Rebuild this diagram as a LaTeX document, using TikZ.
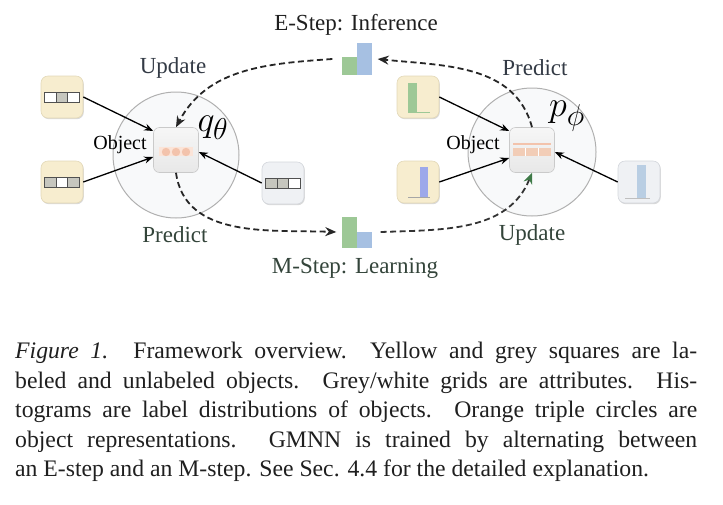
\documentclass[tikz,border=0pt]{standalone}
\usepackage{graphicx}
\usepackage{fontspec}
\setmainfont{Liberation Serif}
\usetikzlibrary{arrows.meta,shadows}
\definecolor{yelfill}{HTML}{F7EDCF}
\definecolor{yeledge}{HTML}{E3D8B8}
\definecolor{greyfill}{HTML}{EFF1F4}
\definecolor{greyedge}{HTML}{D3D6DB}
\definecolor{objtop}{HTML}{F6F6F6}
\definecolor{objbot}{HTML}{E8E8E8}
\definecolor{objedge}{HTML}{CACACA}
\definecolor{circfill}{HTML}{F8F9FA}
\definecolor{circedge}{HTML}{B0B0B0}
\definecolor{cellgrey}{HTML}{C6C6BE}
\definecolor{griddark}{HTML}{505050}
\definecolor{bargreen}{HTML}{9DC896}
\definecolor{barblue}{HTML}{A6C0E2}
\definecolor{barpurple}{HTML}{9DA8EA}
\definecolor{barlight}{HTML}{B9CEE3}
\definecolor{toplab}{HTML}{333A45}
\definecolor{botlab}{HTML}{33443A}
\definecolor{tipgreen}{HTML}{3F7A48}
\definecolor{repband}{HTML}{FBE4D8}
\definecolor{repdot}{HTML}{F3C3AC}
\definecolor{pband}{HTML}{F2CDB7}
\newcommand\attrgrid[4]{%
  \begin{scope}[shift={(#1)}]
    \filldraw[draw=griddark,fill=#2,line width=0.7pt] (-17.5,-5) rectangle (-5.83,5);
    \filldraw[draw=griddark,fill=#3,line width=0.7pt] (-5.83,-5) rectangle (5.83,5);
    \filldraw[draw=griddark,fill=#4,line width=0.7pt] (5.83,-5) rectangle (17.5,5);
  \end{scope}}
\begin{document}
\begin{tikzpicture}[x=1pt,y=-1pt,
  yelbox/.style={draw=yeledge,fill=yelfill,rounded corners=7pt,line width=0.6pt,minimum size=42pt,inner sep=0pt,
    drop shadow={shadow xshift=0.8pt,shadow yshift=-1.2pt,fill=black,opacity=0.15}},
  greybox/.style={draw=greyedge,fill=greyfill,rounded corners=7pt,line width=0.6pt,minimum size=42pt,inner sep=0pt,
    drop shadow={shadow xshift=0.8pt,shadow yshift=-1.2pt,fill=black,opacity=0.15}},
  objbox/.style={draw=objedge,top color=objtop,bottom color=objbot,rounded corners=6pt,line width=0.6pt,minimum size=45pt,inner sep=0pt},
  bigcirc/.style={circle,draw=circedge,fill=circfill,line width=1pt,inner sep=0pt},
  histnode/.style={inner sep=0pt,minimum width=31pt,minimum height=32pt},
  toplabel/.style={text=toplab,font=\fontsize{23}{26}\selectfont,inner sep=0pt},
  botlabel/.style={text=botlab,font=\fontsize{23}{26}\selectfont,inner sep=0pt},
  objlabel/.style={text=black,font=\fontsize{20}{22}\selectfont,inner sep=0pt},
  mathlabel/.style={text=black,font=\fontsize{24.88}{26}\selectfont,inner sep=0pt},
  caplabel/.style={anchor=base west,inner sep=0pt,font=\fontsize{23.7}{30}\selectfont,text=black!88},
  dasharrow/.style={draw=black!85,dash pattern=on 6pt off 3.5pt,line width=1.8pt,-{Stealth[length=11pt,width=9pt]}},
  dasharrowg/.style={draw=black!80,dash pattern=on 6pt off 3.5pt,line width=1.8pt,-{Stealth[length=11pt,width=9pt,color=tipgreen]}},
  solidarrow/.style={draw=black,line width=1.3pt,-{Stealth[length=9pt,width=7pt]}}
]
\useasboundingbox (0,0) rectangle (723,504);

% ---------- left part (q_theta) ----------
\node[bigcirc,minimum size=126pt] (lcirc) at (176,155) {};
\node[yelbox] (lya) at (62,97) {};
\node[yelbox] (lyb) at (62,182) {};
\node[greybox] (lgr) at (283,183) {};
\attrgrid{lya.center}{white}{cellgrey}{white}
\attrgrid{lyb.center}{cellgrey}{white}{cellgrey}
\attrgrid{lgr.center}{cellgrey}{cellgrey}{white}
\node[objbox] (qbox) at (176,150) {};
\begin{scope}[shift={(qbox.center)}]
  \fill[repband] (-17,-3) rectangle (17,6);
  \foreach \dx in {-10,0,10} \fill[repdot] (\dx,2) circle (4.2);
\end{scope}
\node[objlabel] (lobj) at (120,145) {Object};
\node[mathlabel] (qlab) at (213,128) {\scalebox{1.45}{$q_\theta$}};
\node[toplabel] (lupd) at (173,68) {Update};
\node[botlabel] (lpred) at (175,235) {Predict};
\draw[solidarrow] (lya.east) -- ([yshift=19pt]qbox.west);
\draw[solidarrow] (lyb.east) -- ([yshift=-7pt]qbox.west);
\draw[solidarrow] (lgr.west) -- ([yshift=-2pt]qbox.east);

% ---------- right part (p_phi) ----------
\node[bigcirc,minimum size=128pt] (rcirc) at (532,152) {};
\node[yelbox] (rya) at (418,97) {};
\node[yelbox] (ryb) at (418,182) {};
\node[greybox] (rgr) at (639,182) {};
\begin{scope}[shift={(rya.center)}]
  \fill[bargreen] (-10,-14) rectangle (-1,16);
  \fill[bargreen] (-10,14.5) rectangle (12,16);
\end{scope}
\begin{scope}[shift={(ryb.center)}]
  \fill[barpurple] (2,-15) rectangle (10,16);
  \fill[black!35] (-10,15.3) rectangle (12,16.3);
\end{scope}
\begin{scope}[shift={(rgr.center)}]
  \fill[barlight] (-2,-17) rectangle (7,17);
  \fill[black!25] (-14,16.3) rectangle (11,17.3);
\end{scope}
\node[objbox] (pbox) at (532,150) {};
\begin{scope}[shift={(pbox.center)}]
  \fill[pband] (-19,-2) rectangle (19,6);
  \draw[white,line width=1pt] (-6.3,-2) -- (-6.3,6) (6.3,-2) -- (6.3,6);
  \draw[repdot,line width=1.2pt] (-19,-6) -- (19,-6);
\end{scope}
\node[objlabel] (robj) at (473,145) {Object};
\node[mathlabel] (plab) at (567,116) {\scalebox{1.45}{$p_\phi$}};
\node[toplabel] (rpred) at (535,68) {Predict};
\node[botlabel] (rupd) at (532,235) {Update};
\draw[solidarrow] (rya.east) -- ([yshift=19pt]pbox.west);
\draw[solidarrow] (ryb.east) -- ([yshift=-8pt]pbox.west);
\draw[solidarrow] (rgr.west) -- ([yshift=-2pt]pbox.east);

% ---------- E-step / M-step histograms ----------
\node[histnode] (ehist) at (357,59) {};
\begin{scope}[shift={(ehist.center)}]
  \fill[bargreen] (-15,-2) rectangle (0,16);
  \fill[barblue] (0,-16) rectangle (15,16);
\end{scope}
\node[histnode] (mhist) at (357,232) {};
\begin{scope}[shift={(mhist.center)}]
  \fill[bargreen] (-15,-15) rectangle (0,16);
  \fill[barblue] (0,0) rectangle (15,16);
\end{scope}
\node[text=black!88,font=\fontsize{23}{26}\selectfont,inner sep=0pt] (etitle) at (356,25) {E-Step: Inference};
\node[text=botlab,font=\fontsize{23}{26}\selectfont,inner sep=0pt] (mtitle) at (355,268) {M-Step: Learning};

% ---------- dashed EM arrows ----------
\draw[dasharrow] (pbox.north) to[out=105,in=-6] ([xshift=5pt]ehist.east);
\draw[dasharrow] ([xshift=-9pt]ehist.west) to[out=184,in=62] (qbox.north);
\draw[dasharrow] (qbox.south) to[out=-82,in=178] ([xshift=-5pt]mhist.west);
\draw[dasharrowg] ([xshift=8pt]mhist.east) to[out=2,in=-112] (pbox.south);

% ---------- caption ----------
\node[caplabel] (cap1) at (15,358) {\makebox[682pt][s]{\textit{Figure 1.} Framework overview.\ \ Yellow and grey squares are la-}};
\node[caplabel] (cap2) at (15,388) {\makebox[682pt][s]{beled and unlabeled objects. Grey/white grids are attributes. His-}};
\node[caplabel] (cap3) at (15,417) {\makebox[682pt][s]{tograms are label distributions of objects. Orange triple circles are}};
\node[caplabel] (cap4) at (15,447) {\makebox[682pt][s]{object representations. GMNN is trained by alternating between}};
\node[caplabel] (cap5) at (15,476) {an E-step and an M-step. See Sec. 4.4 for the detailed explanation.};
\end{tikzpicture}
\end{document}
